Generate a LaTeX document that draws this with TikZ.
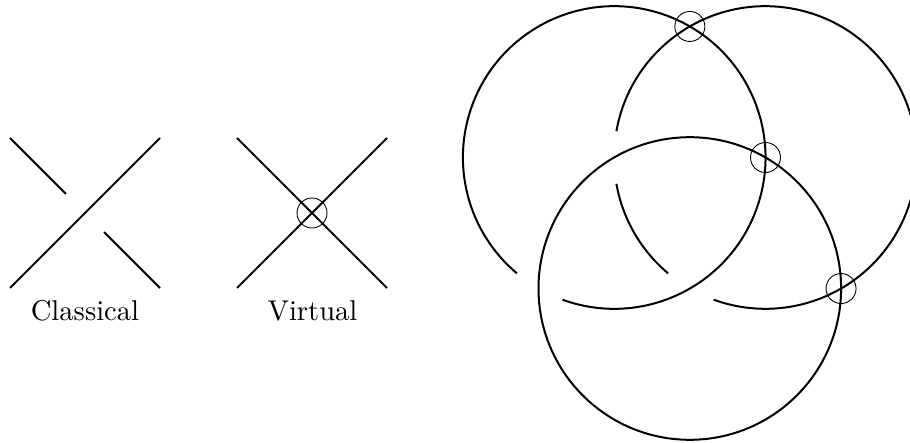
\documentclass[tikz,border=0pt]{standalone}
\usepackage{fontspec}
\usetikzlibrary{calc}
\newfontface\capfont{lmroman10-regular.otf}
\tikzset{
  strand/.style={line width=2pt,black},
  ring/.style={line width=0.9pt,black},
  caption/.style={anchor=base,inner sep=0pt,font=\capfont\fontsize{28.6}{28.6}\selectfont},
}
\begin{document}
\begin{tikzpicture}[x=1pt,y=1pt]
\useasboundingbox (0,0) rectangle (910,442);
% classical crossing
\coordinate (ca) at (10,304);
\coordinate (cb) at (66,248);
\coordinate (cc) at (104,210);
\coordinate (cd) at (160,154);
\coordinate (ce) at (10,154);
\coordinate (cf) at (160,304);
\draw[strand] (ca) -- (cb);
\draw[strand] (cc) -- (cd);
\draw[strand] (ce) -- (cf);
\node[caption] (classical) at (85,121.5) {Classical};
% virtual crossing
\coordinate (va) at (237,304);
\coordinate (vb) at (387,154);
\coordinate (vc) at (237,154);
\coordinate (vd) at (387,304);
\coordinate (vm) at (312,229);
\draw[strand] (va) -- (vb);
\draw[strand] (vc) -- (vd);
\draw[ring] (vm) circle[radius=15];
\node[caption] (virtual) at (312.5,121.5) {Virtual};
% virtual knot
\coordinate (L) at (614.2,284.5);
\coordinate (R) at (765.4,284.5);
\coordinate (B) at (689.8,153.5);
\draw[strand] ($(L)+(250:151.3)$) arc[start angle=250,end angle=590,radius=151.3];
\draw[strand] ($(R)+(170:151.3)$) arc[start angle=170,end angle=-110,radius=151.3];
\draw[strand] ($(R)+(190:151.3)$) arc[start angle=190,end angle=230,radius=151.3];
\draw[strand] (B) circle[radius=151.3];
\draw[ring] ($(L)+(60:151.3)$) circle[radius=15];
\draw[ring] ($(L)+(0:151.3)$) circle[radius=15];
\draw[ring] ($(R)+(-60:151.3)$) circle[radius=15];
\end{tikzpicture}
\end{document}
